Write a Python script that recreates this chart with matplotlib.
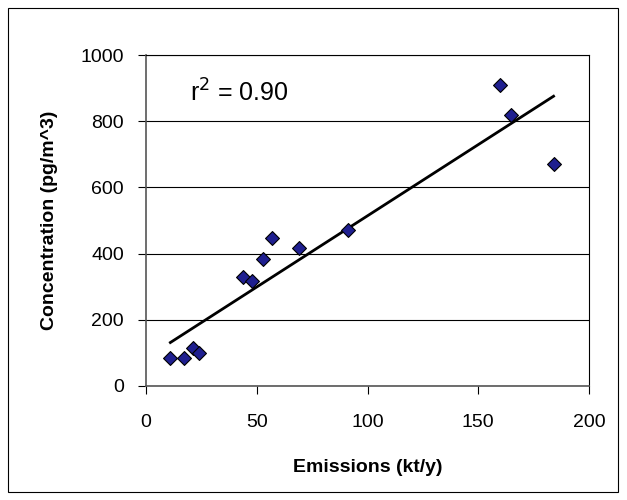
import matplotlib
matplotlib.use("Agg")
import matplotlib.pyplot as plt
import numpy as np
from matplotlib.patches import Rectangle

plt.rcParams['font.family'] = ['Liberation Sans', 'DejaVu Sans']

emissions = [11, 17, 21, 24, 44, 48, 53, 57, 69, 91, 160, 165, 184]
concentration = [85, 85, 115, 100, 330, 318, 385, 447, 418, 470, 908, 820, 672]
xticks = [0, 50, 100, 150, 200]
yticks = [0, 200, 400, 600, 800, 1000]

fig = plt.figure(figsize=(6.27, 5.0), dpi=100)
fig.patches.append(Rectangle((8/627, 8/500), 610/627, 484/500, transform=fig.transFigure,
                             fill=False, edgecolor='black', linewidth=0.8))
ax = fig.add_axes([146/627, 1-386/500, 443/627, 331/500])
ax.set_xlim(0, 200)
ax.set_ylim(0, 1000)
ax.set_xticks(xticks)
ax.set_yticks(yticks)
ax.yaxis.grid(True, color='black', linewidth=0.8)
ax.set_axisbelow(True)
for s in ax.spines.values():
    s.set_linewidth(0.8)
ax.spines['left'].set_color('#555555')
ax.spines['bottom'].set_color('#555555')
ax.spines['left'].set_linewidth(1.2)
ax.spines['bottom'].set_linewidth(1.2)
ax.tick_params(labelsize=14, direction='out', length=6)
ax.tick_params(axis='x', pad=14)
ax.tick_params(axis='y', pad=10)

x = np.array(emissions); y = np.array(concentration)
m, b = np.polyfit(x, y, 1)
xl = np.array([x.min(), x.max()])
ax.plot(xl, m*xl + b, color='black', linewidth=2)
ax.scatter(x, y, marker='D', s=50, color='#1f1f8f', edgecolors='black', linewidths=0.8, zorder=3)
ax.text(20, 860, r'r$^2$ = 0.90', fontsize=18)
ax.set_xlabel('Emissions (kt/y)', fontsize=14, fontweight='bold', labelpad=20)
ax.set_ylabel('Concentration (pg/m^3)', fontsize=14, fontweight='bold', labelpad=16)
fig.savefig('out.png', dpi=100)
